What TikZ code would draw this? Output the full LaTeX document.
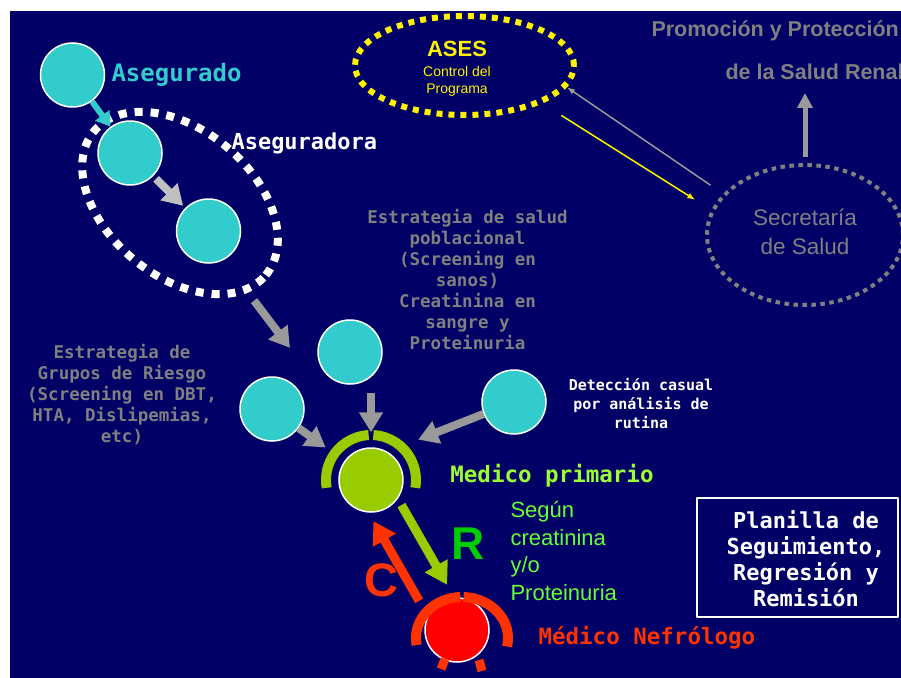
\documentclass[tikz,border=0pt]{standalone}
\usepackage{fontspec}
\setsansfont{Liberation Sans}
\setmonofont{DejaVu Sans Mono}
\usetikzlibrary{arrows.meta,shapes.geometric}

\definecolor{navy}{HTML}{000066}
\definecolor{turq}{HTML}{33CCCC}
\definecolor{lima}{HTML}{99CC00}
\definecolor{limaclara}{HTML}{99FF33}
\definecolor{verdetxt}{HTML}{66FF33}
\definecolor{verdeR}{HTML}{00CC00}
\definecolor{rojo}{HTML}{FF0000}
\definecolor{naranja}{HTML}{FF3300}
\definecolor{gristxt}{HTML}{808080}
\definecolor{grisflecha}{HTML}{999999}
\definecolor{grisclaro}{HTML}{C0C0C0}

\newcommand{\mtxt}[2]{\ttfamily\bfseries\fontsize{#1bp}{#2bp}\selectfont}
\newcommand{\stxt}[2]{\sffamily\fontsize{#1bp}{#2bp}\selectfont}

\tikzset{
  caso/.style={circle, draw=white, line width=1.5bp, minimum size=64bp, inner sep=0pt, fill=#1},
  punteado/.style={ellipse, draw=#1, inner sep=0pt},
  bloque/.style={line width=8bp, -{Triangle[length=20bp,width=23bp]}},
  delgado/.style={line width=1.5bp, draw=#1, -{Latex[length=8bp,width=6bp]}},
}

\begin{document}
\begin{tikzpicture}[>=latex,line join=bevel,x=1bp,y=-1bp]
  \useasboundingbox (0,0) rectangle (901,678);
  \fill[white] (0,0) rectangle (901,678);
  \fill[navy] (10,11) rectangle (901,678);
  \begin{scope}
  \clip (10,11) rectangle (901,678);
  %%
  % Node: aseguradora, ases, secretaria (dotted rings)
  \node[punteado=white, line width=8bp, dash pattern=on 8bp off 8bp, rotate=-40,
        minimum width=224bp, minimum height=146bp] (aseguradora) at (180,203) {};
  \node[punteado=yellow, line width=6bp, dash pattern=on 6bp off 6bp,
        minimum width=219bp, minimum height=99bp] (ases) at (464.5,65.5) {};
  \node[punteado=gristxt, line width=4bp, dash pattern=on 4.5bp off 4.5bp,
        minimum width=196bp, minimum height=140bp] (secretaria) at (805,235) {};
  % Node: circles
  \node[caso=turq] (asegurado) at (72.5,75) {};
  \node[caso=turq] (aseg1) at (130,153) {};
  \node[caso=turq] (aseg2) at (208.5,231) {};
  \node[caso=turq] (poblacional) at (350,352) {};
  \node[caso=turq] (riesgo) at (272,409) {};
  \node[caso=turq] (casual) at (514,402) {};
  \node[caso=lima] (primario) at (371,480) {};
  \node[caso=rojo] (nefrologo) at (457,630) {};
  \coordinate (grupo) at (290,348);
  \coordinate (renal) at (805,93);
  %
  % Edge: asegurado -> aseg1
  \draw[bloque, turq, line width=6bp, -{Triangle[length=14bp,width=17bp]}] (asegurado) -- (aseg1);
  % Edge: aseg1 -> aseg2
  \draw[bloque, grisclaro, shorten <=4bp, shorten >=3bp] (aseg1) -- (aseg2);
  % Edge: aseguradora -> grupo
  \draw[bloque, grisflecha, shorten <=10bp] (aseguradora) -- (grupo);
  % Edge: poblacional -> primario
  \draw[bloque, grisflecha, shorten <=8bp, shorten >=15bp] (poblacional.south -| primario.north) -- (primario.north);
  % Edge: riesgo -> primario
  \draw[bloque, grisflecha, shorten >=23bp] (riesgo) -- (primario);
  % Edge: casual -> primario
  \draw[bloque, grisflecha, shorten >=12bp] (casual) -- ([shift={(36,-36)}]primario.center);
  % Edge: primario -> nefrologo
  \draw[bloque, lima, line width=9bp, -{Triangle[length=22bp,width=25bp]}, shorten <=37bp, shorten >=44bp]
    ([shift={(12,-7)}]primario.center) -- ([shift={(12,-7)}]nefrologo.center);
  % Edge: nefrologo -> primario
  \draw[bloque, naranja, line width=9bp, -{Triangle[length=22bp,width=25bp]}, shorten <=44bp, shorten >=37bp]
    ([shift={(-16,9)}]nefrologo.center) -- ([shift={(-16,9)}]primario.center);
  % Edge: secretaria -> renal
  \draw[bloque, grisflecha, line width=5bp, -{Triangle[length=15bp,width=15bp]}, shorten <=6bp] (secretaria.north) -- (renal);
  % Edge: secretaria -> ases
  \draw[delgado=grisflecha] ([shift={(-14,-7)}]secretaria.152) -- (ases.-12);
  % Edge: ases -> secretaria
  \draw[delgado=yellow] ([shift={(26,9)}]ases.-30) -- ([shift={(-16,-10)}]secretaria.165);
  %
  % brackets
  \draw[lima, line width=10bp] (primario.center) ++(93:45bp) arc[start angle=93, end angle=190, radius=45bp];
  \draw[lima, line width=10bp] (primario.center) ++(87:45bp) arc[start angle=87, end angle=-10, radius=45bp];
  \draw[naranja, line width=10bp] ([shift={(5,8)}]nefrologo.center) ++(92:46bp and 41bp)
    arc[start angle=92, end angle=190, x radius=46bp, y radius=41bp];
  \draw[naranja, line width=10bp] ([shift={(5,8)}]nefrologo.center) ++(88:46bp and 41bp)
    arc[start angle=88, end angle=-12, x radius=46bp, y radius=41bp];
  \draw[naranja, line width=9bp] (445,659) -- (441,669);
  \draw[naranja, line width=9bp] (479,660) -- (482,671);
  %
  % Node: labels
  \node[anchor=base west, text=turq, font=\mtxt{24}{24}] (lblasegurado) at (108,82) {Asegurado};
  \node[anchor=base west, text=white, font=\mtxt{22}{22}] (lblaseguradora) at (228,150) {Aseguradora};
  \node[anchor=base, text=yellow, font=\sffamily\bfseries\fontsize{22bp}{22bp}\selectfont] (lblases) at (457,57) {ASES};
  \node[text=yellow, align=center, font=\stxt{14}{17}] (lblcontrol) at (457,81) {Control del\\Programa};
  \node[anchor=west, text=gristxt, font=\sffamily\bfseries\fontsize{21.5bp}{21.5bp}\selectfont] (promo1) at (648,31) {Promoción y Protección};
  \node[anchor=west, text=gristxt, font=\sffamily\bfseries\fontsize{21.5bp}{21.5bp}\selectfont] (promo2) at (722,72) {de la Salud Renal};
  \node[text=gristxt, align=center, font=\stxt{22.5}{29}] (lblsecretaria) at (805,232) {Secretaría\\de Salud};
  \node[text=gristxt, align=center, font=\mtxt{17.5}{21}] (lblpoblacional) at (467.5,280)
    {Estrategia de salud\\poblacional\\(Screening en\\sanos)\\Creatinina en\\sangre y\\Proteinuria};
  \node[text=gristxt, align=center, font=\mtxt{17.5}{21}] (lblriesgo) at (122,395)
    {Estrategia de\\Grupos de Riesgo\\(Screening en DBT,\\HTA, Dislipemias,\\etc)};
  \node[text=white, align=center, font=\mtxt{15}{19}] (lblcasual) at (641,404) {Detección casual\\por análisis de\\rutina};
  \node[text=limaclara, font=\mtxt{22.5}{22.5}] (lblprimario) at (552,476) {Medico primario};
  \node[anchor=west, text=verdetxt, align=left, font=\stxt{22}{27.5}] (lblsegun) at (507,551) {Según\\creatinina\\y/o\\Proteinuria};
  \node[text=verdeR, font=\sffamily\bfseries\fontsize{46bp}{46bp}\selectfont] (lblr) at (468,544) {R};
  \node[text=naranja, font=\sffamily\bfseries\fontsize{47bp}{47bp}\selectfont] (lblc) at (381,580) {C};
  \node[anchor=west, text=naranja, font=\mtxt{22.5}{22.5}] (lblnefrologo) at (535,638) {Médico Nefrólogo};
  % Node: planilla
  \node[draw=white, line width=2bp, minimum width=201bp, minimum height=119bp, inner sep=0pt] (planilla) at (797.5,557.5) {};
  \node[text=white, align=center, font=\mtxt{22}{26}] (lblplanilla) at (806,559) {Planilla de\\Seguimiento,\\Regresión y\\Remisión};
  \end{scope}
\end{tikzpicture}
\end{document}
